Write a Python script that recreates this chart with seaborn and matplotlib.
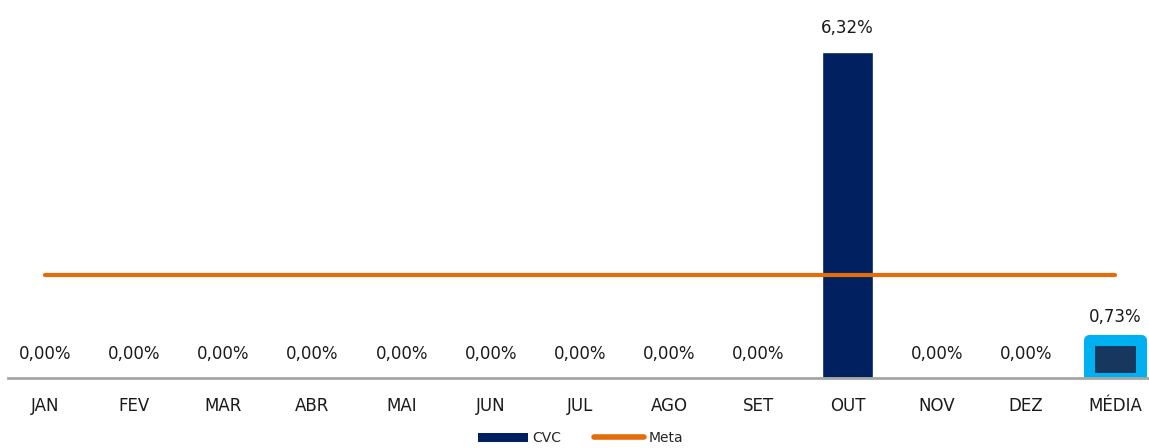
import matplotlib
matplotlib.use("Agg")
import matplotlib.pyplot as plt
import seaborn as sns
import pandas as pd
from matplotlib.patches import Patch
from matplotlib.lines import Line2D

categories = ["JAN", "FEV", "MAR", "ABR", "MAI", "JUN", "JUL", "AGO", "SET", "OUT", "NOV", "DEZ", "MÉDIA"]
cvc_values = [0.00, 0.00, 0.00, 0.00, 0.00, 0.00, 0.00, 0.00, 0.00, 6.32, 0.00, 0.00, 0.73]
meta_values = [2.0] * 13

navy = "#002060"
media_inner = "#17375e"
media_edge = "#00b0f0"
orange = "#e46c0a"

sns.set_theme(style="white")
plt.rcParams['font.family'] = ['DejaVu Sans']

df = pd.DataFrame({"cat": categories, "CVC": cvc_values, "Meta": meta_values})

fig = plt.figure(figsize=(11.49, 4.48), dpi=100)
ax = fig.add_axes([8/1149, 70/448, 1 - 8/1149, 378/448])

colors = [navy] * 12 + [media_inner]
sns.barplot(data=df, x="cat", y="CVC", hue="cat", palette=colors, legend=False,
            width=0.58, ax=ax, saturation=1)

# MÉDIA bar highlight
media_patch = ax.patches[-1]
media_patch.set_edgecolor(media_edge)
media_patch.set_linewidth(8)
media_patch.set_joinstyle("round")

sns.lineplot(x=list(range(len(categories))), y=df["Meta"], color=orange, linewidth=3, ax=ax)

for i, v in enumerate(cvc_values):
    ax.annotate(f"{v:.2f}%".replace(".", ","), (i, v), xytext=(0, 17), textcoords="offset points",
                ha="center", va="center", fontsize=12, color="#1a1a1a")

ax.set_xlim(-0.415, 12.38)
ax.set_ylim(0, 7.33)
ax.set_xlabel("")
ax.set_ylabel("")
ax.set_yticks([])
ax.tick_params(axis="x", length=0, labelsize=12, pad=14, colors="#1a1a1a")
for s in ["top", "left", "right"]:
    ax.spines[s].set_visible(False)
ax.spines["bottom"].set_color("#a6a6a6")
ax.spines["bottom"].set_linewidth(2)

handles = [Patch(facecolor=navy, edgecolor="none", label="CVC"),
           Line2D([0], [0], color=orange, linewidth=4, label="Meta")]
fig.legend(handles=handles, loc="center", bbox_to_anchor=(0.505, 10/448), ncol=2, frameon=False,
           fontsize=10, handlelength=3.6, handleheight=0.6, columnspacing=2.4, handletextpad=0.3)

fig.savefig("out.png", dpi=100)
